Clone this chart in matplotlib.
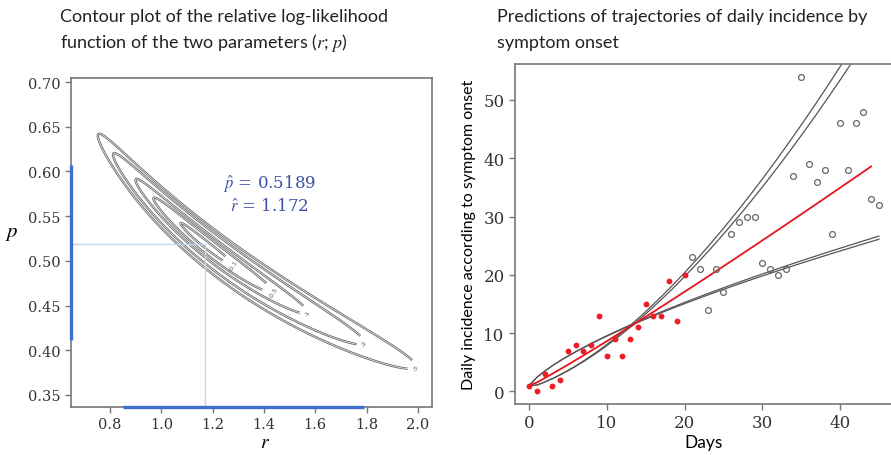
import numpy as np
import matplotlib.pyplot as plt

plt.rcParams['mathtext.fontset'] = 'stix'

# daily incidence by symptom onset: calibration period and later observations
fit_days = np.arange(0, 21)
fit_cases = [1, 0, 3, 1, 2, 7, 8, 7, 8, 13, 6, 9, 6, 9, 11, 15, 13, 13, 19, 12, 20]
test_days = np.arange(21, 46)
test_cases = [23, 21, 14, 21, 17, 27, 29, 30, 30, 22, 21, 20, 21,
              37, 54, 39, 36, 38, 27, 46, 38, 46, 48, 33, 32]

# estimates and interval ends
r_hat, p_hat = 1.172, 0.5189
r_ci = [0.851, 1.79]
p_ci = [0.411, 0.607]

# parameter pairs used for the prediction envelope
upper_pairs = [(0.851, 0.613), (0.846, 0.611)]
lower_pairs = [(1.79, 0.411), (1.80, 0.408)]

contour_levels = [-3, -2, -1, -0.5, -0.1]

SERIF = 'DejaVu Serif'
SANS = 'Lato'
GREY = '#777777'


def ggm_incidence(r, p, days, c0=1.0):
    """Daily incidence of the generalized growth model dC/dt = r C^p."""
    t = np.asarray(days, dtype=float).reshape((-1,) + (1,) * np.ndim(r))
    k = 1.0 / (1.0 - p)

    def cum(tt):
        return np.clip((1 - p) * r * tt + c0 ** (1 - p), 0, None) ** k

    inc = cum(t) - cum(t - 1)
    return np.where(t == 0, c0, inc)


# relative Poisson log-likelihood over the calibration period
r_grid = np.linspace(0.6, 2.1, 500)
p_grid = np.linspace(0.32, 0.72, 500)
R, P = np.meshgrid(r_grid, p_grid)
mu = np.maximum(ggm_incidence(R, P, fit_days), 1e-9)
y = np.asarray(fit_cases, dtype=float)[:, None, None]
ll = (y * np.log(mu) - mu).sum(axis=0)
rel = ll - ll.max()

fig = plt.figure(figsize=(8.91, 4.56), dpi=100)

# ---- left panel: contour plot ----
ax1 = fig.add_axes([0.0797, 0.1053, 0.4052, 0.7215])
cs = ax1.contour(R, P, rel, levels=contour_levels, colors='#6a6a6a',
                 linewidths=1.7, linestyles='solid')
# label each contour at its right-hand tip
tips = []
for lev in contour_levels:
    inside = rel >= lev
    j = np.argmax(np.where(inside, R, -np.inf))
    tips.append((R.flat[j], P.flat[j]))
ax1.clabel(cs, contour_levels, manual=tips, fontsize=4.5, inline=True,
           fmt=lambda v: f'{v:g}', colors='#555555')
# hollow centre of the contour strokes
ax1.contour(R, P, rel, levels=contour_levels, colors='white',
            linewidths=0.45, linestyles='solid')

xlim = (0.648, 2.055)
ylim = (0.3366, 0.7045)
ax1.plot([xlim[0], r_hat], [p_hat, p_hat], color='#c5d5ea', lw=1.0)
ax1.plot([r_hat, r_hat], [ylim[0], p_hat], color='#c5d5ea', lw=1.0)
ax1.plot([xlim[0], xlim[0]], p_ci, color='#3f6fcc', lw=2.4,
         solid_capstyle='butt', clip_on=False, zorder=5)
ax1.plot(r_ci, [ylim[0], ylim[0]], color='#3f6fcc', lw=2.4,
         solid_capstyle='butt', clip_on=False, zorder=5)
ax1.text(1.42, 0.586, r'$\hat{p}$ = %.4f' % p_hat, color='#3d4fa8',
         fontsize=12, family=SERIF, ha='center', va='center')
ax1.text(1.42, 0.561, r'$\hat{r}$ = %.3f' % r_hat, color='#3d4fa8',
         fontsize=12, family=SERIF, ha='center', va='center')

ax1.set_xlim(xlim)
ax1.set_ylim(ylim)
ax1.set_xticks(np.arange(0.8, 2.01, 0.2))
ax1.set_yticks(np.arange(0.35, 0.701, 0.05))
ax1.xaxis.set_major_formatter(plt.FormatStrFormatter('%.1f'))
ax1.yaxis.set_major_formatter(plt.FormatStrFormatter('%.2f'))
ax1.set_xlabel('$r$', fontsize=14)
ax1.xaxis.set_label_coords(0.537, -0.075)
ax1.set_ylabel('$p$', fontsize=15, rotation=0)
ax1.yaxis.set_label_coords(-0.165, 0.5)

# ---- right panel: trajectories ----
ax2 = fig.add_axes([0.578, 0.1118, 0.4242, 0.7457])
all_days = np.arange(0, 46)
for r, p in upper_pairs + lower_pairs:
    ax2.plot(all_days, ggm_incidence(r, p, all_days), color='#555555',
             lw=0.9)
fit_line_days = np.arange(0, 45)
ax2.plot(fit_line_days, ggm_incidence(r_hat, p_hat, fit_line_days),
         color='#e8141c', lw=1.3)
ax2.plot(fit_days, fit_cases, 'o', ms=4.2, color='#ee1c24', mec='none')
ax2.plot(test_days, test_cases, 'o', ms=4.2, mfc='none', mec='#666666',
         mew=0.9)
ax2.set_xlim(-1.8, 46.8)
ax2.set_ylim(-2.16, 56.16)
ax2.set_xticks(range(0, 41, 10))
ax2.set_yticks(range(0, 51, 10))
ax2.set_xlabel('Days', fontsize=12.5, family=SANS, labelpad=2)
ax2.set_ylabel('Daily incidence according to symptom onset', fontsize=11.5,
               family=SANS, labelpad=5)

for ax, size in ((ax1, 10.5), (ax2, 12)):
    for side in ax.spines.values():
        side.set_color(GREY)
        side.set_linewidth(1.2)
    ax.tick_params(direction='out', length=4, width=1, color=GREY,
                   labelsize=size, labelcolor='#333333')
    for lab in ax.get_xticklabels() + ax.get_yticklabels():
        lab.set_family(SERIF)

# titles
title_kw = dict(family=SANS, fontsize=13, va='center', color='#222222')
fig.text(0.0673, 0.9627, 'Contour plot of the relative log-likelihood', **title_kw)
fig.text(0.0673, 0.9057, 'function of the two parameters ($r$; $p$)', **title_kw)
fig.text(0.558, 0.9627, 'Predictions of trajectories of daily incidence by', **title_kw)
fig.text(0.558, 0.9057, 'symptom onset', **title_kw)

fig.savefig('out.png', dpi=100)
